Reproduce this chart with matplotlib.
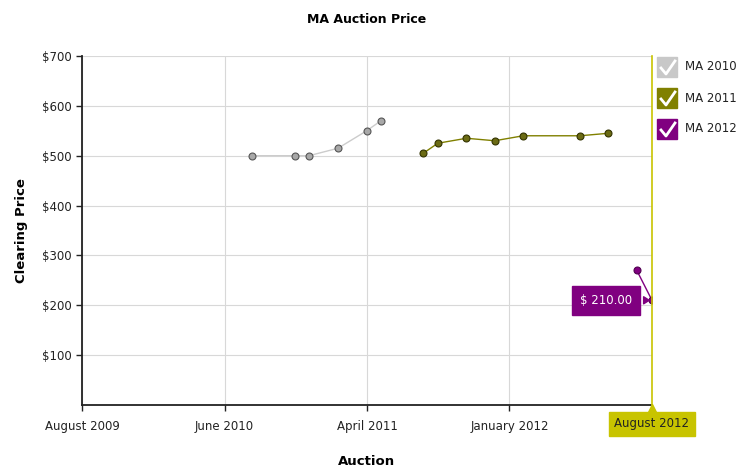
import matplotlib
matplotlib.use("Agg")
import matplotlib.pyplot as plt
import matplotlib.transforms as mtransforms
from matplotlib.patches import Rectangle
from matplotlib.lines import Line2D

# x values: months since August 2009
ma2010_x = [10.74, 13.45, 14.34, 16.17, 17.98, 18.87]
ma2010_y = [500, 500, 500, 515, 550, 570]
ma2011_x = [21.56, 22.47, 24.28, 26.07, 27.86, 31.44, 33.25]
ma2011_y = [505, 525, 535, 530, 540, 540, 545]
ma2012_x = [35.04, 36.0]
ma2012_y = [270, 210]

series_names = ["MA 2010", "MA 2011", "MA 2012"]
x_tick_pos = [0, 9, 18, 27]
x_tick_labels = ["August 2009", "June 2010", "April 2011", "January 2012"]
y_ticks = [100, 200, 300, 400, 500, 600, 700]
y_tick_labels = ["$100", "$200", "$300", "$400", "$500", "$600", "$700"]
crosshair_label = "August 2012"
tooltip_label = "$ 210.00"

plt.rcParams['font.family'] = ['DejaVu Sans']
fig = plt.figure(figsize=(7.51, 4.72), dpi=100)
ax = fig.add_axes([82/751, 1-405/472, 570/751, 349/472])

ax.set_xlim(0, 36)
ax.set_ylim(0, 700)

ax.plot(ma2010_x, ma2010_y, color='#cccccc', lw=1, marker='o', ms=5,
        mfc='#a8a8a8', mec='#555555', mew=0.8, zorder=3)
ax.plot(ma2011_x, ma2011_y, color='#808000', lw=1, marker='o', ms=5,
        mfc='#6b6b14', mec='#333300', mew=0.8, zorder=3)
ax.plot(ma2012_x, ma2012_y, color='#800080', lw=1, marker='o', ms=5,
        mfc='#800080', mec='#500050', mew=0.8, zorder=3)

ax.set_xticks(x_tick_pos)
ax.set_xticklabels(x_tick_labels)
ax.set_yticks(y_ticks)
ax.set_yticklabels(y_tick_labels)
ax.tick_params(axis='both', labelsize=8.5, colors='#222222', length=4, width=1)
ax.tick_params(axis='x', pad=7)
ax.grid(True, color='#d8d8d8', lw=0.8)
ax.set_axisbelow(True)
for s in ['top', 'right']:
    ax.spines[s].set_visible(False)
for s in ['left', 'bottom']:
    ax.spines[s].set_color('#222222')
    ax.spines[s].set_linewidth(1.3)

# crosshair
ax.axvline(36, color='#c8c400', lw=1.2, zorder=4, clip_on=False)
ax.annotate(crosshair_label, xy=(36, 0), xycoords='data', xytext=(0, -19),
            textcoords='offset pixels', ha='center', va='center', fontsize=8.5,
            color='#222222',
            bbox=dict(boxstyle='square,pad=0.5', fc='#c8c400', ec='#c8c400'),
            annotation_clip=False)
tri_tr = ax.transData + mtransforms.ScaledTranslation(0, -4/100, fig.dpi_scale_trans)
ax.plot([36], [0], marker='^', ms=7, color='#c8c400', mec='#c8c400',
        transform=tri_tr, clip_on=False, zorder=5)

# tooltip
ax.annotate(tooltip_label, xy=(36, 210), xytext=(-46, 0), textcoords='offset pixels',
            ha='center', va='center', fontsize=8.5, color='white',
            bbox=dict(boxstyle='square,pad=0.7', fc='#800080', ec='#800080'),
            arrowprops=dict(arrowstyle='wedge,tail_width=0.6', fc='#800080', ec='#800080'),
            zorder=6)

ax.set_title("MA Auction Price", fontsize=9, fontweight='bold', pad=24)
ax.set_ylabel("Clearing Price", fontsize=9.5, fontweight='bold', labelpad=10)
ax.set_xlabel("Auction", fontsize=9.5, fontweight='bold')
ax.xaxis.set_label_coords(0.5, -0.143)

# legend with check boxes
colors = ['#c8c8c8', '#808000', '#800080']
for i, (name, c) in enumerate(zip(series_names, colors)):
    top = 57 + i * 31
    fig.patches.append(Rectangle((657/751, 1-(top+20)/472), 20/751, 20/472,
                                 transform=fig.transFigure, fc=c, ec=c))
    fig.lines.append(Line2D([661/751, 666/751, 675/751],
                            [1-(top+11)/472, 1-(top+17)/472, 1-(top+4)/472],
                            transform=fig.transFigure, color='white', lw=2))
    fig.text(685/751, 1-(top+10)/472, name, fontsize=8.5, va='center', color='#222222')

fig.savefig("out.png", dpi=100)
